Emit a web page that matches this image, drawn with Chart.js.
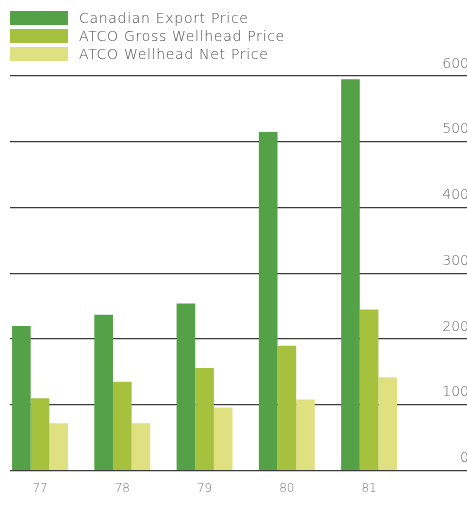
<!DOCTYPE html>
<html>
<head>
<meta charset="utf-8">
<script src="https://cdn.jsdelivr.net/npm/chart.js@4"></script>
<style>
  html, body { margin: 0; padding: 0; background: #fff; }
  #wrap { position: relative; width: 467px; height: 505px; overflow: hidden; }
  #priceChart { position: absolute; left: 0; top: 0; }
  #legend { position: absolute; left: 10px; top: 9px; font-family: 'DejaVu Sans', sans-serif; font-weight: 200; font-size: 14px; letter-spacing: 0.7px; color: #4a4a4a; }
  #legend .row { display: flex; align-items: center; height: 18px; }
  #legend .swatch { width: 58px; height: 14px; margin-right: 11px; }
</style>
</head>
<body>
<div id="wrap">
  <canvas id="priceChart" width="467" height="505"></canvas>
  <div id="legend"></div>
</div>
<script>
const years = [77, 78, 79, 80, 81];
const exportPrice = [220, 237, 254, 515, 595];
const grossWellhead = [110, 135, 156, 190, 245];
const netWellhead = [72, 72, 96, 108, 142];
const seriesNames = ['Canadian Export Price', 'ATCO Gross Wellhead Price', 'ATCO Wellhead Net Price'];
const seriesColors = ['#55a147', '#a5c13e', '#dfe180'];

const toPoints = (values) => years.map((yr, i) => ({ x: yr, y: values[i] }));

const chart = new Chart(document.getElementById('priceChart'), {
  type: 'bar',
  data: {
    datasets: [exportPrice, grossWellhead, netWellhead].map((values, i) => ({
      label: seriesNames[i],
      data: toPoints(values),
      backgroundColor: seriesColors[i],
      borderWidth: 0
    }))
  },
  options: {
    responsive: false,
    animation: false,
    barPercentage: 1,
    categoryPercentage: 0.68,
    layout: { padding: { top: 76, bottom: -2, left: 10, right: 0 } },
    plugins: {
      legend: { display: false },
      tooltip: { enabled: false }
    },
    scales: {
      x: {
        type: 'linear',
        offset: false,
        min: 76.635,
        max: 82.19,
        afterBuildTicks: (scale) => { scale.ticks = years.map(v => ({ value: v })); },
        ticks: {
          padding: 11,
          color: '#777',
          font: { family: "'DejaVu Sans', sans-serif", size: 12, weight: '200' },
          callback: (v) => String(v)
        },
        grid: { display: false, drawTicks: false },
        border: { display: false }
      },
      y: {
        position: 'right',
        min: 0,
        max: 600,
        // labels sit inside the plot, so the axis takes no width
        afterFit: (scale) => { scale.width = 0; },
        ticks: {
          stepSize: 100,
          mirror: true,
          labelOffset: -12,
          padding: 2,
          color: '#666',
          font: { family: "'DejaVu Sans', sans-serif", size: 14, weight: '200' }
        },
        grid: { color: '#3a3a3a', lineWidth: 1.2, drawTicks: false },
        border: { display: false }
      }
    }
  }
});

// legend rows built from the chart's own datasets
const legendEl = document.getElementById('legend');
chart.data.datasets.forEach(ds => {
  const row = document.createElement('div');
  row.className = 'row';
  const sw = document.createElement('span');
  sw.className = 'swatch';
  sw.style.background = ds.backgroundColor;
  const txt = document.createElement('span');
  txt.textContent = ds.label;
  row.appendChild(sw);
  row.appendChild(txt);
  legendEl.appendChild(row);
});
</script>
</body>
</html>
